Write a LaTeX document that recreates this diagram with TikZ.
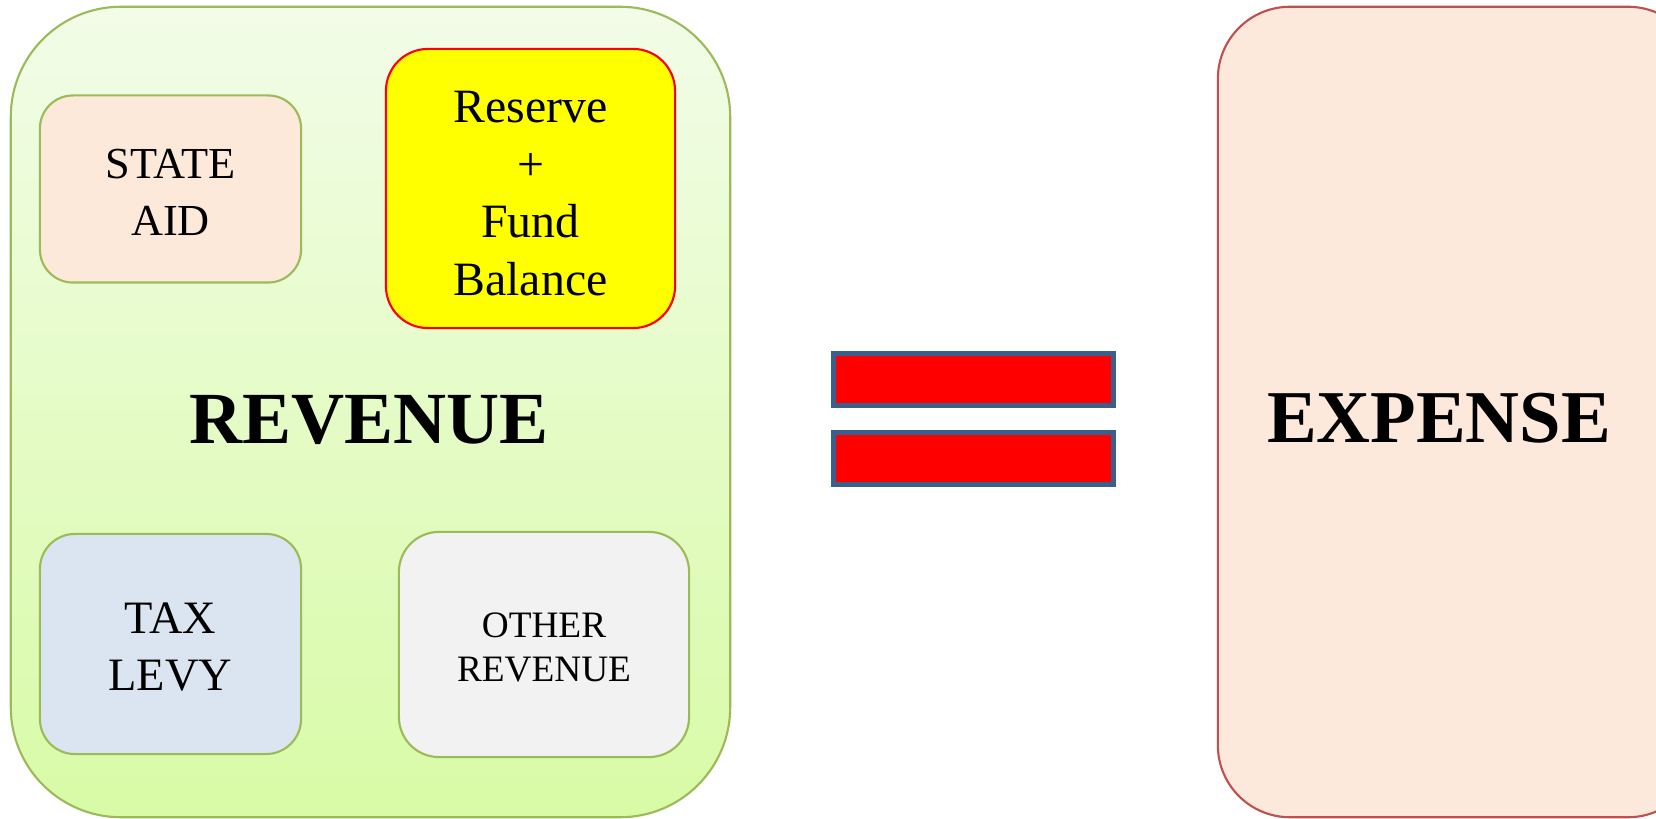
\documentclass[tikz,border=0pt]{standalone}
\usepackage{fontspec}
\setmainfont{Liberation Serif}

\definecolor{revTop}{HTML}{F2FCE8}
\definecolor{revBottom}{HTML}{D8FBA6}
\definecolor{revLine}{HTML}{9BBB59}
\definecolor{aidFill}{HTML}{FCE9DA}
\definecolor{levyFill}{HTML}{DBE5F1}
\definecolor{otherFill}{HTML}{F2F2F2}
\definecolor{resFill}{HTML}{FFFF00}
\definecolor{resLine}{HTML}{FF0000}
\definecolor{expFill}{HTML}{FCE9DB}
\definecolor{expLine}{HTML}{C0504D}
\definecolor{barLine}{HTML}{3A5F8B}

\tikzset{
  inbox/.style={draw=revLine,line width=0.6pt,inner sep=0pt},
  intext/.style={align=center,yshift=-0.9pt},
  eqbar/.style={draw=barLine,fill=resLine,line width=1.42pt,inner sep=0pt,
    minimum width=2.80cm,minimum height=0.52cm},
}

\begin{document}
\begin{tikzpicture}[x=0.01cm,y=-0.01cm]
\clip (0,0) rectangle (1656,819);
\fill[white] (0,0) rectangle (1656,819);
% revenue side
\node[draw=revLine,line width=0.6pt,top color=revTop,bottom color=revBottom,
  rounded corners=1.1cm,minimum width=7.19cm,minimum height=8.10cm] (Revenue) at (370.5,412){};
\node[anchor=base,font=\fontsize{20.9}{25}\selectfont\bfseries] (RevenueTxt) at (369,444){REVENUE};
\node[inbox,fill=aidFill,rounded corners=0.33cm,minimum width=2.61cm,minimum height=1.87cm,
  label={[intext,font=\fontsize{12.6}{16.2}\selectfont]center:STATE\\AID}] (Aid) at (170.5,189){};
\node[inbox,draw=resLine,fill=resFill,rounded corners=0.42cm,minimum width=2.89cm,minimum height=2.79cm,
  label={[intext,yshift=-0.5pt,font=\fontsize{13.6}{16.4}\selectfont]center:Reserve\\+\\Fund\\Balance}] (Reserve) at (530.5,188.5){};
\node[inbox,fill=levyFill,rounded corners=0.35cm,minimum width=2.61cm,minimum height=2.20cm,
  label={[intext,font=\fontsize{13.2}{16.2}\selectfont]center:TAX\\LEVY}] (Levy) at (170.5,644){};
\node[inbox,fill=otherFill,rounded corners=0.4cm,minimum width=2.90cm,minimum height=2.25cm,
  label={[intext,font=\fontsize{10.6}{12.5}\selectfont]center:OTHER\\REVENUE}] (Other) at (544,644.5){};
% equals sign
\node[eqbar] (Bar1) at (973.5,379.5){};
\node[eqbar] (Bar2) at (973.5,458.5){};
% expense side
\node[draw=expLine,line width=0.6pt,fill=expFill,rounded corners=0.72cm,
  minimum width=4.82cm,minimum height=8.10cm] (Expense) at (1459,412){};
\node[anchor=base,font=\fontsize{21.2}{25}\selectfont\bfseries] (ExpenseTxt) at (1439,443){EXPENSE};
\end{tikzpicture}
\end{document}
